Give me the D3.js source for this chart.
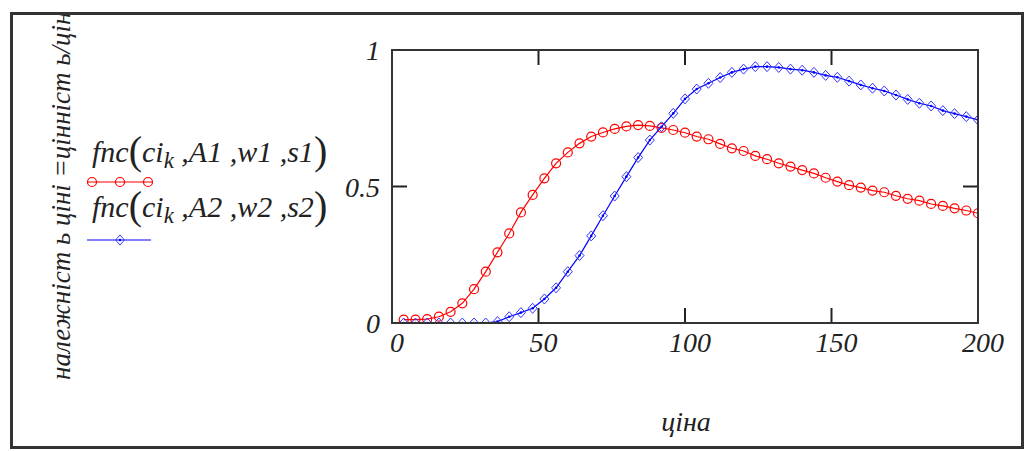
<!DOCTYPE html>
<html>
<head>
<meta charset="utf-8">
<script src="https://cdnjs.cloudflare.com/ajax/libs/d3/7.8.5/d3.min.js"></script>
<style>
  body { margin: 0; background: #fff; }
  svg text { font-family: "Times New Roman", "Liberation Serif", Times, serif; font-style: italic; fill: #222; }
</style>
</head>
<body>
<svg id="chart"></svg>
<script>
// prices ci_k
let ci = [4, 8, 12, 16, 20, 24, 28, 32, 36, 40, 44, 48, 52, 56, 60, 64, 68, 72, 76, 80,
          84, 88, 92, 96, 100, 104, 108, 112, 116, 120, 124, 128, 132, 136, 140, 144, 148, 152, 156, 160,
          164, 168, 172, 176, 180, 184, 188, 192, 196, 200];

// fnc(ci_k, A1, w1, s1)
let fnc1 = [0.012, 0.012, 0.014, 0.023, 0.041, 0.072, 0.124, 0.188, 0.259, 0.328,
            0.405, 0.469, 0.530, 0.585, 0.625, 0.658, 0.683, 0.698, 0.711, 0.720,
            0.725, 0.722, 0.715, 0.707, 0.697, 0.683, 0.673, 0.656, 0.640, 0.630,
            0.612, 0.600, 0.585, 0.573, 0.560, 0.548, 0.532, 0.518, 0.505, 0.496,
            0.485, 0.479, 0.466, 0.455, 0.448, 0.436, 0.429, 0.420, 0.412, 0.402];

// fnc(ci_k, A2, w2, s2)
let fnc2 = [0.0, 0.0, 0.0, 0.0, 0.0, 0.0, 0.0, 0.0, 0.005, 0.023,
            0.038, 0.054, 0.088, 0.129, 0.188, 0.247, 0.319, 0.393, 0.465, 0.536,
            0.606, 0.670, 0.719, 0.768, 0.821, 0.857, 0.878, 0.899, 0.918, 0.930,
            0.939, 0.939, 0.936, 0.930, 0.926, 0.918, 0.907, 0.900, 0.886, 0.872,
            0.860, 0.850, 0.835, 0.819, 0.805, 0.795, 0.778, 0.767, 0.756, 0.744];

let x_ticks = [0, 50, 100, 150, 200];
let y_ticks = [0, 0.5, 1];

let legend_labels = [["A1", "w1", "s1"], ["A2", "w2", "s2"]];
let x_label = "ціна";
let y_label = "належніст ь ціні =цінніст ь/ціні";

let width = 1030;
let height = 451;

let svg = d3.select("#chart")
    .attr("width", width)
    .attr("height", height);

let plot = { left: 392, top: 50, right: 978, bottom: 323 };

let x = d3.scaleLinear().domain([0, 200]).range([plot.left, plot.right]);
let y = d3.scaleLinear().domain([0, 1]).range([plot.bottom, plot.top]);

// outer frame
svg.append("rect")
    .attr("x", 11.5).attr("y", 13.5)
    .attr("width", 1011).attr("height", 434)
    .attr("fill", "none")
    .attr("stroke", "#333")
    .attr("stroke-width", 3);

svg.append("clipPath").attr("id", "frame-clip")
    .append("rect").attr("x", 13).attr("y", 15).attr("width", 1008).attr("height", 431);

svg.append("clipPath").attr("id", "plot-clip")
    .append("rect")
    .attr("x", plot.left).attr("y", plot.top)
    .attr("width", plot.right - plot.left).attr("height", plot.bottom - plot.top);

// ticks, pointing inward from every side
let tick_len = 15;
let inner_x = x_ticks.filter(function (d) { return d > 0 && d < 200; });
let inner_y = y_ticks.filter(function (d) { return d > 0 && d < 1; });

let ticks = svg.append("g").attr("stroke", "#222").attr("stroke-width", 2);
inner_x.forEach(function (d) {
    ticks.append("line").attr("x1", x(d)).attr("x2", x(d)).attr("y1", plot.bottom).attr("y2", plot.bottom - tick_len);
    ticks.append("line").attr("x1", x(d)).attr("x2", x(d)).attr("y1", plot.top).attr("y2", plot.top + tick_len);
});
inner_y.forEach(function (d) {
    ticks.append("line").attr("y1", y(d)).attr("y2", y(d)).attr("x1", plot.left).attr("x2", plot.left + tick_len);
    ticks.append("line").attr("y1", y(d)).attr("y2", y(d)).attr("x1", plot.right).attr("x2", plot.right - tick_len);
});

// tick labels
svg.append("g").selectAll("text")
    .data(x_ticks)
    .enter().append("text")
    .attr("x", function (d) { return x(d) + 5; })
    .attr("y", 352)
    .attr("text-anchor", "middle")
    .style("font-size", "28px")
    .text(function (d) { return d; });

svg.append("g").selectAll("text")
    .data(y_ticks)
    .enter().append("text")
    .attr("x", 380)
    .attr("y", function (d) { return y(d) + 10; })
    .attr("text-anchor", "end")
    .style("font-size", "28px")
    .text(function (d) { return d; });

// series
let series = svg.append("g").attr("clip-path", "url(#plot-clip)");

let line1 = d3.line().x(function (d, i) { return x(ci[i]); }).y(function (d) { return y(d); });

series.append("path")
    .datum(fnc1)
    .attr("d", line1)
    .attr("fill", "none")
    .attr("stroke", "#f00")
    .attr("stroke-width", 1.2);

series.append("g").selectAll("circle")
    .data(fnc1)
    .enter().append("circle")
    .attr("cx", function (d, i) { return x(ci[i]); })
    .attr("cy", function (d) { return y(d); })
    .attr("r", 4.5)
    .attr("fill", "none")
    .attr("stroke", "#f00")
    .attr("stroke-width", 1.2);

series.append("path")
    .datum(fnc2)
    .attr("d", line1)
    .attr("fill", "none")
    .attr("stroke", "#00f")
    .attr("stroke-width", 1.2);

function diamond(cx, cy) {
    return "M" + cx + "," + (cy - 5) + "L" + (cx + 4.5) + "," + cy + "L" + cx + "," + (cy + 5) + "L" + (cx - 4.5) + "," + cy + "Z";
}

let dia = series.append("g").selectAll("g")
    .data(fnc2)
    .enter().append("g");

dia.append("path")
    .attr("d", function (d, i) { return diamond(x(ci[i]), y(d)); })
    .attr("fill", "none")
    .attr("stroke", "#33f")
    .attr("stroke-width", 1);

dia.append("circle")
    .attr("cx", function (d, i) { return x(ci[i]); })
    .attr("cy", function (d) { return y(d); })
    .attr("r", 1.3)
    .attr("fill", "#00f");

// plot frame
svg.append("rect")
    .attr("x", plot.left).attr("y", plot.top)
    .attr("width", plot.right - plot.left).attr("height", plot.bottom - plot.top)
    .attr("fill", "none")
    .attr("stroke", "#333")
    .attr("stroke-width", 2);

// legend
let legend = svg.append("g");
let legend_base = [162, 217];

legend_labels.forEach(function (p, k) {
    let t = legend.append("text")
        .attr("x", 92)
        .attr("y", legend_base[k])
        .style("font-size", "30px");
    t.append("tspan").text("fnc");
    t.append("tspan").style("font-size", "40px").style("font-style", "normal").attr("dy", 2).text("(");
    t.append("tspan").attr("dy", -2).text("ci");
    t.append("tspan").style("font-size", "23px").attr("dy", 6).text("k");
    t.append("tspan").attr("dy", -6).text(" ," + p[0] + " ," + p[1] + " ," + p[2]);
    t.append("tspan").style("font-size", "40px").style("font-style", "normal").attr("dy", 2).text(")");
});

legend.append("line")
    .attr("x1", 87).attr("x2", 152).attr("y1", 182).attr("y2", 182)
    .attr("stroke", "#f00").attr("stroke-width", 1.2);
legend.selectAll("circle.lg")
    .data([92, 120, 148])
    .enter().append("circle")
    .attr("class", "lg")
    .attr("cx", function (d) { return d; })
    .attr("cy", 182)
    .attr("r", 4.5)
    .attr("fill", "none")
    .attr("stroke", "#f00")
    .attr("stroke-width", 1.2);

legend.append("line")
    .attr("x1", 87).attr("x2", 151).attr("y1", 240).attr("y2", 240)
    .attr("stroke", "#00f").attr("stroke-width", 1.2);
legend.append("path")
    .attr("d", diamond(120, 240))
    .attr("fill", "none")
    .attr("stroke", "#33f");
legend.append("circle").attr("cx", 120).attr("cy", 240).attr("r", 1.3).attr("fill", "#00f");

// axis titles
svg.append("text")
    .attr("x", 686)
    .attr("y", 431)
    .attr("text-anchor", "middle")
    .style("font-size", "28px")
    .text(x_label);

svg.append("g").attr("clip-path", "url(#frame-clip)")
    .append("text")
    .attr("transform", "translate(70,380) rotate(-90)")
    .style("font-size", "27px")
    .text(y_label);
</script>
</body>
</html>
